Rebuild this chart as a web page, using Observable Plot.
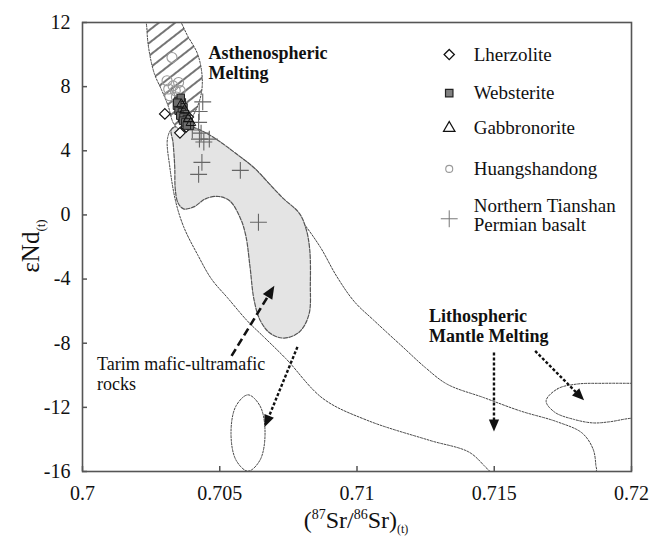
<!DOCTYPE html>
<html><head><meta charset="utf-8">
<script src="https://cdn.jsdelivr.net/npm/d3@7"></script>
<script src="https://cdn.jsdelivr.net/npm/@observablehq/plot@0.6"></script>
<style>
body{margin:0;background:#fff;}
#wrap{position:relative;width:665px;height:539px;font-family:"Liberation Serif","Times New Roman",serif;color:#111;}
#wrap svg, #wrap svg text{font-family:"Liberation Serif","Times New Roman",serif !important;}
.lab{position:absolute;white-space:nowrap;line-height:1;}
</style></head><body><div id="wrap"></div>
<script>
// ---- tick labels ----
const xTicks = [0.7, 0.705, 0.71, 0.715, 0.72];
const yTicks = [-16, -12, -8, -4, 0, 4, 8, 12];

// ---- sample data (87Sr/86Sr, eNd) ----
const lherzolite = [[0.70300, 6.30], [0.70355, 5.12], [0.70378, 5.50], [0.70368, 5.85], [0.70385, 6.10]];
const websterite = [[0.70350, 7.12], [0.70362, 7.02], [0.70344, 6.81], [0.70356, 6.71], [0.70368, 6.71], [0.70350, 6.50],
  [0.70362, 6.40], [0.70374, 6.29], [0.70356, 6.19], [0.70368, 6.08], [0.70380, 5.98], [0.70366, 5.88],
  [0.70374, 5.77], [0.70386, 5.77], [0.70392, 5.57], [0.70380, 5.57], [0.70358, 7.30], [0.70345, 7.00]];
const gabbronorite = [[0.70372, 6.55], [0.70385, 6.00], [0.70395, 5.75], [0.70360, 6.90]];
const huangshandong = [[0.70326, 9.82], [0.70308, 8.37], [0.70350, 8.26], [0.70314, 7.85], [0.70338, 7.75],
  [0.70318, 7.43], [0.70356, 7.75], [0.70330, 8.05], [0.70342, 7.35]];
const tianshanBasalt = [[0.70438, 7.05], [0.70425, 6.45], [0.70423, 5.77], [0.70400, 5.30], [0.70432, 5.10],
  [0.70426, 4.73], [0.70462, 4.73], [0.70442, 4.55], [0.70435, 3.28], [0.70423, 2.53], [0.70575, 2.78], [0.70641, -0.46]];

// ---- field outlines ----
const asthenoField = [[0.70238, 12.5], [0.70330, 12.6], [0.70385, 11.1], [0.70420, 10.0], [0.70436, 8.6], [0.70432, 7.5],
  [0.70412, 6.5], [0.70385, 5.75], [0.70355, 5.35], [0.70332, 5.7], [0.70312, 6.8], [0.70288, 7.8], [0.70262, 8.8],
  [0.70243, 10.2], [0.70235, 11.5]];
const tarimField = [[0.70325, 5.35], [0.70381, 5.55], [0.70440, 5.20], [0.70502, 4.55], [0.70565, 3.75], [0.70623, 2.97],
  [0.70680, 1.95], [0.70730, 1.05], [0.70790, 0.10], [0.70815, -0.90], [0.70828, -2.2], [0.70830, -4.3], [0.70825, -6.2],
  [0.70790, -7.3], [0.70735, -7.68], [0.70685, -7.40], [0.70648, -6.6], [0.70625, -5.3], [0.70610, -3.2], [0.70595, -1.3],
  [0.70575, -0.2], [0.70538, 0.85], [0.70497, 1.15], [0.70450, 1.02], [0.70405, 0.50], [0.70368, 0.38], [0.70348, 0.75],
  [0.70338, 1.6], [0.70336, 3.0], [0.70330, 4.5]];
const lithoField = [[0.70330, 5.45], [0.70381, 5.55], [0.70500, 4.45], [0.70623, 2.97], [0.70720, 1.15], [0.70795, -0.30],
  [0.70866, -2.0], [0.70925, -3.8], [0.70990, -5.4], [0.71063, -6.6], [0.71169, -8.27], [0.71249, -9.52], [0.71329, -10.56],
  [0.71463, -11.40], [0.71596, -12.23], [0.71729, -12.9], [0.71820, -13.6], [0.71860, -14.6], [0.71870, -15.6], [0.71870, -16.0],
  [0.71487, -16.0], [0.71470, -15.75], [0.71409, -14.8], [0.71263, -14.05], [0.71036, -12.8], [0.70876, -11.45], [0.70743, -9.0],
  [0.70660, -7.6], [0.70600, -6.6], [0.70530, -5.2], [0.70470, -4.0], [0.70420, -2.5], [0.70370, -0.8], [0.70340, 0.8],
  [0.70318, 3.0], [0.70310, 4.8]];
const smallField = [[0.70603, -11.22], [0.70647, -11.92], [0.70665, -13.6], [0.70647, -15.28], [0.70603, -15.98],
  [0.70559, -15.28], [0.70541, -13.6], [0.70559, -11.92]];
const rightField = [[0.71689, -11.6], [0.71730, -10.85], [0.71800, -10.55], [0.71900, -10.50], [0.72000, -10.50], [0.72080, -10.5],
  [0.72080, -12.7], [0.72000, -12.68], [0.71920, -12.9], [0.71860, -12.97], [0.71790, -12.75], [0.71720, -12.3]];

// ---- annotations ----
const boldLabels = [
  {x: 0.70459, y: 9.51, text: "Asthenospheric\nMelting"},
  {x: 0.71262, y: -6.89, text: "Lithospheric\nMantle Melting"}
];
const plainLabels = [
  {x: 0.70053, y: -9.88, text: "Tarim mafic-ultramafic\nrocks"}
];
const tarimArrow = [{x1: 0.70543, y1: -8.79, x2: 0.70689, y2: -4.70}];
const lithoArrows = [
  {x1: 0.70783, y1: -8.23, x2: 0.70670, y2: -12.95},
  {x1: 0.71499, y1: -8.58, x2: 0.71499, y2: -13.2},
  {x1: 0.71649, y1: -8.48, x2: 0.71815, y2: -11.35}
];

// ---- legend ----
const legendNames = ["Lherzolite", "Websterite", "Gabbronorite", "Huangshandong", "Northern Tianshan\nPermian basalt"];
const legendSymbolY = [10.0, 7.6, 5.42, 2.87, -0.24];
const legendTextY = [10.0, 7.6, 5.42, 2.87, 0.0];
const legendX = 0.71336, legendTextX = 0.71425;

const FONT = '"Liberation Serif", "Times New Roman", serif';
const pairX = d => d[0], pairY = d => d[1];

const plot = Plot.plot({
  width: 665, height: 539,
  marginLeft: 82, marginRight: 34, marginTop: 22, marginBottom: 68,
  x: {domain: [0.7, 0.72]},
  y: {domain: [-16, 12]},
  style: {fontFamily: FONT, fontSize: "20px", color: "#111", background: "white"},
  marks: [
    Plot.line(lithoField, {x: pairX, y: pairY, curve: "catmull-rom-closed", stroke: "#444", strokeWidth: 1, strokeDasharray: "2,1.5", clip: true}),
    Plot.line(tarimField, {x: pairX, y: pairY, curve: "catmull-rom-closed", fill: "#e4e4e4", stroke: "#555", strokeWidth: 1.2, strokeDasharray: "4,1.5", clip: true}),
    Plot.line(asthenoField, {x: pairX, y: pairY, curve: "catmull-rom-closed", fill: "url(#hatch)", stroke: "#444", strokeWidth: 1, strokeDasharray: "2,1.5", clip: true}),
    Plot.line(smallField, {x: pairX, y: pairY, curve: "catmull-rom-closed", stroke: "#444", strokeWidth: 1, strokeDasharray: "2,1.5", clip: true}),
    Plot.line(rightField, {x: pairX, y: pairY, curve: "catmull-rom-closed", stroke: "#444", strokeWidth: 1, strokeDasharray: "2,1.5", clip: true}),
    Plot.link(tarimArrow, {x1: "x1", y1: "y1", x2: "x2", y2: "y2", stroke: "#111", strokeWidth: 2.6, strokeDasharray: "8,4", markerEnd: "arrow"}),
    Plot.link(lithoArrows, {x1: "x1", y1: "y1", x2: "x2", y2: "y2", stroke: "#111", strokeWidth: 2.4, strokeDasharray: "3,2", markerEnd: "arrow"}),
    Plot.dot(huangshandong, {x: pairX, y: pairY, r: 5, stroke: "#9a9a9a", strokeWidth: 1.1, fill: "none"}),
    Plot.dot(tianshanBasalt, {x: pairX, y: pairY, symbol: "plus", r: 5.5, stroke: "#666", strokeWidth: 1.1, fill: "none"}),
    Plot.dot(lherzolite, {x: pairX, y: pairY, symbol: "diamond2", r: 4.8, stroke: "#111", strokeWidth: 1.2, fill: "white"}),
    Plot.dot(websterite, {x: pairX, y: pairY, symbol: "square", r: 4.2, stroke: "#222", strokeWidth: 1, fill: "#6e6e6e"}),
    Plot.dot(gabbronorite, {x: pairX, y: pairY, symbol: "triangle", r: 3.6, stroke: "#111", strokeWidth: 1, fill: "none"}),
    Plot.text(boldLabels, {x: "x", y: "y", text: "text", fontWeight: "bold", fontFamily: FONT, textAnchor: "start", lineAnchor: "middle", fontSize: 18, lineHeight: 1.12, fill: "#111"}),
    Plot.text(plainLabels, {x: "x", y: "y", text: "text", fontFamily: FONT, textAnchor: "start", lineAnchor: "middle", fontSize: 18, lineHeight: 1.12, fill: "#111"}),
    // legend
    Plot.dot([legendSymbolY[0]], {x: () => legendX, y: d => d, symbol: "diamond2", r: 4.6, stroke: "#111", strokeWidth: 1.3, fill: "white"}),
    Plot.dot([legendSymbolY[1]], {x: () => legendX, y: d => d, symbol: "square", r: 4.2, stroke: "#222", strokeWidth: 1.2, fill: "#808080"}),
    Plot.dot([legendSymbolY[2]], {x: () => legendX, y: d => d, symbol: "triangle", r: 4.2, stroke: "#111", strokeWidth: 1.3, fill: "none"}),
    Plot.dot([legendSymbolY[3]], {x: () => legendX, y: d => d, r: 3.5, stroke: "#999", strokeWidth: 1.1, fill: "none"}),
    Plot.dot([legendSymbolY[4]], {x: () => legendX, y: d => d, symbol: "plus", r: 5.5, stroke: "#777", strokeWidth: 1, fill: "none"}),
    Plot.text(legendNames, {x: () => legendTextX, y: (d, i) => legendTextY[i], text: d => d, fontFamily: FONT, textAnchor: "start", lineAnchor: "middle", fontSize: 19, lineHeight: 1.0, fill: "#111"}),
    // axes: labels outside, short ticks inside
    Plot.axisX({ticks: xTicks, tickFormat: d => String(d), tickSize: 0, tickPadding: 14, label: null, fontSize: 20, fontFamily: FONT}),
    Plot.axisY({ticks: yTicks, tickFormat: d => String(d), tickSize: 0, tickPadding: 12, label: null, fontSize: 20, fontFamily: FONT}),
    Plot.axisX({ticks: xTicks, tickFormat: () => "", tickSize: 5, dy: -5, label: null, stroke: "#555", strokeWidth: 1.5}),
    Plot.axisY({ticks: yTicks, tickFormat: () => "", tickSize: 5, dx: 5, label: null, stroke: "#555", strokeWidth: 1.5}),
    Plot.frame({stroke: "#555", strokeWidth: 1.6})
  ]
});

// hatch pattern + filled arrowheads
const ns = "http://www.w3.org/2000/svg";
const defs = document.createElementNS(ns, "defs");
defs.innerHTML = '<pattern id="hatch" patternUnits="userSpaceOnUse" width="10" height="10" patternTransform="rotate(-38)">' +
  '<rect width="10" height="10" fill="white"/><line x1="0" y1="5" x2="10" y2="5" stroke="#2a2a2a" stroke-width="1.3"/></pattern>';
plot.insertBefore(defs, plot.firstChild);
plot.querySelectorAll("marker").forEach(m => {
  m.setAttribute("overflow", "visible");
  m.setAttribute("stroke", "none");
  m.setAttribute("fill", "#111");
  const p = m.querySelector("path");
  if (p) p.setAttribute("d", "M-4.5,-3.2L3,0L-4.5,3.2Z");
});

const wrap = document.getElementById("wrap");
wrap.appendChild(plot);

const yl = document.createElement("div");
yl.className = "lab";
yl.style.cssText = "left:30px;top:246px;transform:translate(-50%,-50%) rotate(-90deg);font-size:25px;";
yl.innerHTML = 'εNd<span style="font-size:13px;position:relative;top:6px;">(t)</span>';
wrap.appendChild(yl);

const xl = document.createElement("div");
xl.className = "lab";
xl.style.cssText = "left:356px;top:520px;transform:translate(-50%,-50%);font-size:24px;";
xl.innerHTML = '(<span style="font-size:14px;position:relative;top:-9px;">87</span>Sr/<span style="font-size:14px;position:relative;top:-9px;">86</span>Sr)<span style="font-size:12px;position:relative;top:5px;">(t)</span>';
wrap.appendChild(xl);
</script></body></html>
